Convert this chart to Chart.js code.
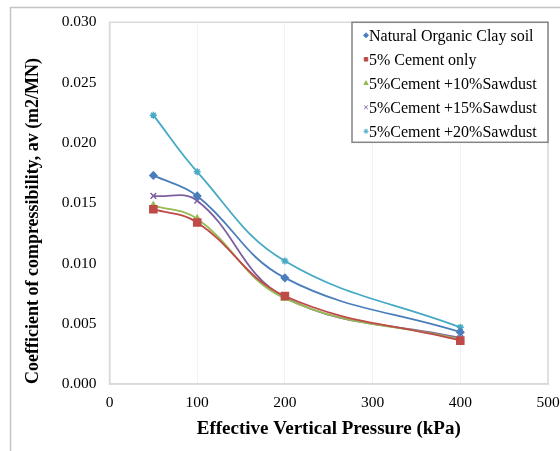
<!DOCTYPE html>
<html>
<head>
<meta charset="utf-8">
<script src="https://cdn.jsdelivr.net/npm/chart.js@4.4.1/dist/chart.umd.min.js"></script>
<style>
  html, body { margin: 0; padding: 0; background: #fff; }
  #wrap { width: 560px; height: 451px; }
</style>
</head>
<body>
<div id="wrap"><canvas id="myChart" width="560" height="451"></canvas></div>
<script>
// 데이터
const pressure = [50, 100, 200, 400]; // kPa
const natural = [0.0173, 0.0156, 0.0088, 0.0043];
const cementOnly = [0.0145, 0.0134, 0.0073, 0.0036];
const sawdust10 = [0.0148, 0.0137, 0.0071, 0.0037];
const sawdust15 = [0.0156, 0.0152, 0.0072, 0.0038];
const sawdust20 = [0.0223, 0.0176, 0.0102, 0.0047];

const seriesNames = [
    'Natural Organic Clay soil',
    '5% Cement only',
    '5%Cement +10%Sawdust',
    '5%Cement +15%Sawdust',
    '5%Cement +20%Sawdust'
];
const xTicks = [0, 100, 200, 300, 400, 500];
const yTicks = [0, 0.005, 0.010, 0.015, 0.020, 0.025, 0.030];

const serif = "'Liberation Serif', 'Times New Roman', serif";

function toPoints(values) {
    return pressure.map((x, i) => ({ x: x, y: values[i] }));
}

function makeSet(label, values, color, style, radius) {
    return {
        label: label,
        data: toPoints(values),
        borderColor: color,
        backgroundColor: color,
        pointStyle: style,
        pointRadius: radius,
        pointBorderWidth: 1.5,
        borderWidth: 1.8,
        tension: 0.4,
        showLine: true
    };
}

// 바깥 테두리와 범례 상자
const framePlugin = {
    id: 'frame',
    beforeDraw(chart) {
        const ctx = chart.ctx;
        ctx.save();
        ctx.strokeStyle = '#c4c4c4';
        ctx.lineWidth = 1.5;
        ctx.beginPath();
        ctx.moveTo(10.5, chart.height);
        ctx.lineTo(10.5, 7.5);
        ctx.lineTo(chart.width, 7.5);
        ctx.stroke();
        ctx.restore();
    },
    afterDraw(chart) {
        const ctx = chart.ctx;
        const area = chart.chartArea;
        ctx.save();
        // 플롯 영역 테두리
        ctx.strokeStyle = '#d9d9d9';
        ctx.lineWidth = 1.5;
        ctx.strokeRect(area.left, area.top, area.right - area.left, area.bottom - area.top);

        // 범례
        const boxW = 196, boxH = 120;
        const bx = area.right - boxW, by = area.top;
        ctx.fillStyle = '#fff';
        ctx.fillRect(bx, by, boxW, boxH);
        ctx.strokeStyle = '#858585';
        ctx.lineWidth = 1.5;
        ctx.strokeRect(bx, by, boxW, boxH);

        ctx.font = '16px ' + serif;
        ctx.textBaseline = 'middle';
        ctx.textAlign = 'left';
        chart.data.datasets.forEach((ds, i) => {
            const y = by + 13 + i * 24;
            const mx = bx + 14;
            ctx.fillStyle = ds.borderColor;
            ctx.strokeStyle = ds.borderColor;
            ctx.lineWidth = 1;
            Chart.helpers.drawPoint(ctx, { pointStyle: ds.pointStyle, radius: 2.5, rotation: 0, borderWidth: 1 }, mx, y);
            ctx.fillStyle = '#000';
            ctx.fillText(ds.label, mx + 3, y + 1);
        });
        ctx.restore();
    }
};

const ctx = document.getElementById('myChart').getContext('2d');
const myChart = new Chart(ctx, {
    type: 'scatter',
    data: {
        datasets: [
            makeSet(seriesNames[0], natural, '#4a7ebb', 'rectRot', 3.5),
            makeSet(seriesNames[1], cementOnly, '#be4b48', 'rect', 5),
            makeSet(seriesNames[2], sawdust10, '#98b954', 'triangle', 3.5),
            makeSet(seriesNames[3], sawdust15, '#7d60a0', 'crossRot', 4),
            makeSet(seriesNames[4], sawdust20, '#46aac5', 'star', 3.5)
        ]
    },
    options: {
        responsive: false,
        animation: false,
        layout: { padding: { left: 0, top: 19, right: 0, bottom: 0 } },
        plugins: {
            legend: { display: false },
            tooltip: { enabled: false }
        },
        scales: {
            x: {
                type: 'linear',
                min: 0,
                max: 500,
                afterBuildTicks(scale) { scale.ticks = xTicks.map(v => ({ value: v })); },
                afterFit(scale) {
                    scale.height = 67;
                    scale.paddingRight = 12;
                },
                ticks: { color: '#000', font: { family: serif, size: 15.5 }, padding: 10 },
                grid: { color: 'rgba(0,0,0,0.05)', drawTicks: false },
                border: { color: '#d9d9d9', width: 1.5 },
                title: {
                    display: true,
                    text: 'Effective Vertical Pressure (kPa)',
                    color: '#000',
                    font: { family: serif, size: 19, weight: 'bold' },
                    padding: { top: 0, bottom: 11 }
                }
            },
            y: {
                type: 'linear',
                min: 0,
                max: 0.030,
                afterBuildTicks(scale) { scale.ticks = yTicks.map(v => ({ value: v })); },
                afterFit(scale) { scale.width = 109.5; },
                ticks: {
                    color: '#000',
                    font: { family: serif, size: 15.5 },
                    padding: 13,
                    callback: v => v.toFixed(3)
                },
                grid: { display: false, drawTicks: false },
                border: { color: '#d9d9d9', width: 1.5 },
                title: {
                    display: true,
                    text: 'Coefficient of compressibility, av (m2/MN)',
                    align: 'start',
                    color: '#000',
                    font: { family: serif, size: 18, weight: 'bold' },
                    padding: { top: 23, bottom: 0 }
                }
            }
        }
    },
    plugins: [framePlugin]
});
</script>
</body>
</html>
